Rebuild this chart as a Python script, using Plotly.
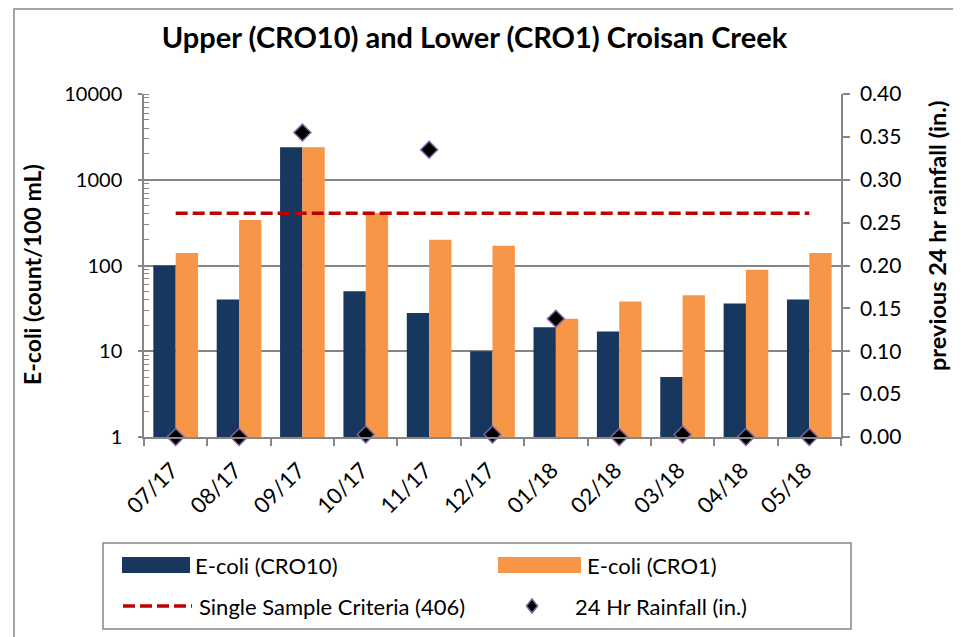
import plotly.graph_objects as go

months = ["07/17", "08/17", "09/17", "10/17", "11/17", "12/17",
          "01/18", "02/18", "03/18", "04/18", "05/18"]
ecoli_cro10 = [100, 40, 2400, 50, 28, 10, 19, 17, 5, 36, 40]
ecoli_cro1 = [140, 340, 2400, 410, 200, 170, 24, 38, 45, 89, 140]
criteria = [406] * len(months)
rainfall = [0.0, 0.0, 0.355, 0.003, 0.335, 0.003, 0.138, 0.0, 0.003, 0.0, 0.0]

FONT = "Lato"
GRAY = "#868686"
NAVY = "#17375E"
ORANGE = "#F79646"
RED = "#C00000"
PURPLE = "#8064A2"

# page is offset by the 8px body margin, so figure is 953x629
W, H = 953, 629

fig = go.Figure()
fig.add_trace(go.Bar(x=months, y=ecoli_cro10, name="E-coli (CRO10)",
                     marker=dict(color=NAVY, line=dict(width=0))))
fig.add_trace(go.Bar(x=months, y=ecoli_cro1, name="E-coli (CRO1)",
                     marker=dict(color=ORANGE, line=dict(width=0))))
fig.add_trace(go.Scatter(x=months, y=criteria, name="Single Sample Criteria (406)",
                         mode="lines",
                         line=dict(color=RED, width=3.5, dash="12px,5px")))
fig.add_trace(go.Scatter(x=months, y=rainfall, name="24 Hr Rainfall (in.)",
                         mode="markers", yaxis="y2", cliponaxis=False,
                         marker=dict(symbol="diamond", size=13, color="black",
                                     line=dict(color=PURPLE, width=1.5))))


# page pixel -> paper coords (plot area spans 144..841 x 94..437 on the page)
def px_x(p):
    return (p - 144) / 697


def px_y(p):
    return (437 - p) / 343


shapes = []
# outer chart border
shapes.append(dict(type="rect", xref="paper", yref="paper",
                   x0=px_x(14), x1=px_x(954), y0=px_y(660), y1=px_y(9),
                   line=dict(color=GRAY, width=1.5), layer="above"))
# legend box
shapes.append(dict(type="rect", xref="paper", yref="paper",
                   x0=px_x(103), x1=px_x(851), y0=px_y(629), y1=px_y(543),
                   line=dict(color=GRAY, width=1.5), fillcolor="white",
                   layer="below"))
# legend swatches
shapes.append(dict(type="rect", xref="paper", yref="paper",
                   x0=px_x(122), x1=px_x(190), y0=px_y(573), y1=px_y(557),
                   line=dict(width=0), fillcolor=NAVY))
shapes.append(dict(type="rect", xref="paper", yref="paper",
                   x0=px_x(498), x1=px_x(581), y0=px_y(573), y1=px_y(557),
                   line=dict(width=0), fillcolor=ORANGE))
shapes.append(dict(type="line", xref="paper", yref="paper",
                   x0=px_x(123), x1=px_x(192), y0=px_y(606), y1=px_y(606),
                   line=dict(color=RED, width=3.5, dash="12px,5px")))
cx, cy, h = 532, 606, 7
path = "M {} {} L {} {} L {} {} L {} {} Z".format(
    px_x(cx), px_y(cy - h), px_x(cx + h * 0.8), px_y(cy),
    px_x(cx), px_y(cy + h), px_x(cx - h * 0.8), px_y(cy))
shapes.append(dict(type="path", xref="paper", yref="paper", path=path,
                   fillcolor="black", line=dict(color=PURPLE, width=1.5)))

legend_texts = [
    ("E-coli (CRO10)", 193, 565),
    ("E-coli (CRO1)", 585, 565),
    ("Single Sample Criteria (406)", 197, 606),
    ("24 Hr Rainfall (in.)", 573, 606),
]
annotations = [dict(text=t, xref="paper", yref="paper", x=px_x(x), y=px_y(y),
                    xanchor="left", yanchor="middle", showarrow=False,
                    font=dict(family=FONT, size=22, color="black"))
               for t, x, y in legend_texts]

# axis titles
annotations.append(dict(text="<b>E-coli (count/100 mL)</b>", xref="paper",
                        yref="paper", x=px_x(32), y=px_y(275), textangle=-90,
                        xanchor="center", yanchor="middle", showarrow=False,
                        font=dict(family=FONT, size=23, color="black")))
annotations.append(dict(text="<b>previous 24 hr rainfall (in.)</b>",
                        xref="paper", yref="paper", x=px_x(937), y=px_y(236),
                        textangle=-90, xanchor="center", yanchor="middle",
                        showarrow=False,
                        font=dict(family=FONT, size=23.5, color="black")))

fig.update_layout(
    width=W, height=H,
    margin=dict(l=136, r=120, t=86, b=200),
    paper_bgcolor="white", plot_bgcolor="white",
    font=dict(family=FONT, color="black", size=22),
    showlegend=False,
    barmode="group", bargap=0.295, bargroupgap=0,
    title=dict(text="<b>Upper (CRO10) and Lower (CRO1) Croisan Creek</b>",
               font=dict(family=FONT, size=29, color="black"),
               x=466.5 / W, xanchor="center", xref="container",
               y=1 - 30 / H, yanchor="middle", yref="container"),
    xaxis=dict(type="category", range=[-0.5, len(months) - 0.5],
               showline=True, linecolor=GRAY, linewidth=1.5,
               ticks="outside", tickson="boundaries", ticklen=7, tickcolor=GRAY,
               tickwidth=1.5, tickangle=-45, tickfont=dict(size=22),
               ticklabelshift=-4, ticklabelstandoff=10,
               showgrid=False),
    yaxis=dict(type="log", range=[0, 4], dtick=1, showline=True,
               linecolor=GRAY, linewidth=1.5, showgrid=True, gridcolor=GRAY,
               gridwidth=1.5, tickformat="d",
               ticks="outside", ticklen=4, tickcolor=GRAY, tickwidth=1.5,
               tickfont=dict(size=20), ticklabelstandoff=12,
               minor=dict(dtick="D1", ticks="inside", ticklen=5,
                          tickcolor=GRAY, tickwidth=1, showgrid=False),
               zeroline=False),
    yaxis2=dict(overlaying="y", side="right", range=[0, 0.4], dtick=0.05,
                tickformat=".2f", showline=True, linecolor=GRAY, linewidth=1.5,
                ticks="outside", ticklen=7, tickcolor=GRAY, tickwidth=1.5,
                showgrid=False, zeroline=False, tickfont=dict(size=21),
                ticklabelstandoff=6),
    shapes=shapes,
    annotations=annotations,
)

fig.write_html("out.html")
